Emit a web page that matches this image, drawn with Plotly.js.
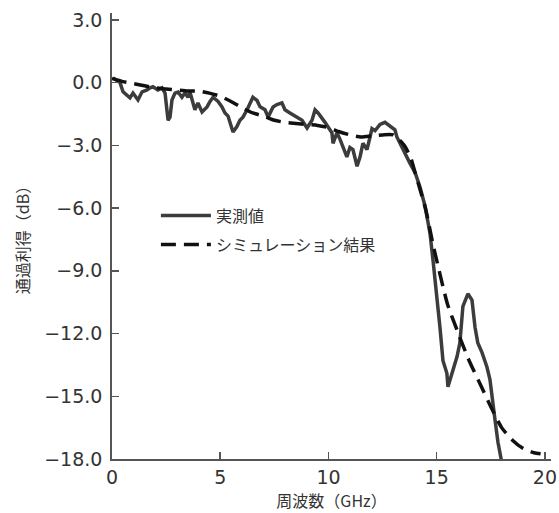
<!DOCTYPE html>
<html>
<head>
<meta charset="utf-8">
<script src="https://cdn.plot.ly/plotly-3.0.1.min.js"></script>
<style>html,body{margin:0;padding:0;background:#fff}#chart{width:559px;height:513px}</style>
</head>
<body>
<div id="chart"></div>
<script>
// 実測値 (measured)
const measFreq = [0.05,0.37,0.51,0.83,0.97,1.2,1.39,1.62,1.76,1.89,2.12,2.31,2.45,2.59,2.68,2.77,2.91,3.05,3.23,3.37,3.51,3.6,3.83,3.97,4.16,4.39,4.53,4.67,4.9,5.08,5.22,5.36,5.59,5.77,5.91,6.05,6.24,6.51,6.7,6.84,7.07,7.21,7.44,7.62,7.85,7.99,8.22,8.55,8.78,9.01,9.24,9.38,9.52,9.84,10.16,10.21,10.39,10.53,10.85,10.99,11.13,11.32,11.46,11.59,11.78,11.92,12.01,12.15,12.38,12.61,12.84,13.07,13.16,13.3,13.44,13.63,13.76,14.0,14.23,14.46,14.69,14.83,15.01,15.15,15.29,15.47,15.52,15.7,15.94,16.07,16.21,16.44,16.63,16.77,16.9,17.09,17.32,17.46,17.6,17.69,17.83,18.05];
const measGain = [0.22,0.0,-0.44,-0.73,-0.5,-0.83,-0.44,-0.35,-0.25,-0.2,-0.35,-0.25,-0.5,-1.8,-1.65,-0.83,-0.5,-0.45,-0.7,-0.5,-0.7,-0.45,-1.3,-0.97,-1.4,-1.16,-0.9,-0.7,-0.9,-1.16,-1.45,-1.6,-2.36,-2.1,-1.8,-1.65,-1.3,-0.7,-0.85,-1.16,-1.3,-1.65,-1.16,-1.05,-0.97,-1.3,-1.45,-1.65,-1.8,-2.17,-1.8,-1.3,-1.45,-1.9,-2.4,-2.9,-2.4,-2.7,-3.55,-3.1,-3.2,-4.0,-3.55,-2.9,-3.2,-2.6,-2.2,-2.3,-2.0,-1.9,-2.1,-2.26,-2.6,-2.9,-3.2,-3.6,-3.85,-4.3,-5.0,-5.9,-7.2,-8.5,-10.1,-11.7,-13.3,-13.9,-14.55,-13.9,-13.1,-12.45,-10.7,-10.1,-10.4,-11.7,-12.45,-12.9,-13.6,-14.2,-15.2,-16.1,-17.2,-18.4];

// シミュレーション結果 (simulation)
const simFreq = [0,0.5,1,1.5,2,2.5,3,3.5,4,4.5,5,5.5,6,6.5,7,7.5,8,8.5,9,9.5,10,10.5,11,11.5,12,12.5,13,13.5,13.8,14,14.2,14.5,14.8,15,15.5,16,16.5,17,17.5,18,18.5,19,19.5,19.8];
const simGain = [0.2,0.05,-0.05,-0.15,-0.25,-0.3,-0.35,-0.4,-0.4,-0.5,-0.65,-0.9,-1.2,-1.45,-1.6,-1.8,-1.9,-1.95,-2.0,-2.05,-2.15,-2.35,-2.5,-2.6,-2.55,-2.5,-2.5,-3.0,-3.6,-4.3,-5.0,-6.1,-7.6,-8.5,-10.6,-12.0,-13.3,-14.4,-15.5,-16.5,-17.1,-17.5,-17.7,-17.75];

const xTicks = [0,5,10,15,20];
const yTicks = [3,0,-3,-6,-9,-12,-15,-18];

const cjk = '"Noto Sans CJK JP", "Noto Sans", sans-serif';
const num = '"DejaVu Sans", "Noto Sans CJK JP", sans-serif';

const traces = [
  {x: measFreq, y: measGain, type: 'scatter', mode: 'lines', name: '実測値', legendgroup: 'a',
   line: {color: '#3c3c3c', width: 3.5}},
  {x: simFreq, y: simGain, type: 'scatter', mode: 'lines', name: 'シミュレーション結果', legendgroup: 'b',
   line: {color: '#111111', width: 3.5, dash: '15px,8px', shape: 'spline', smoothing: 0.6}}
];

const layout = {
  width: 559, height: 513,
  margin: {l: 112, r: 8, t: 13, b: 54},
  paper_bgcolor: '#ffffff', plot_bgcolor: '#ffffff',
  showlegend: true,
  legend: {x: 0.1, y: 0.513, xanchor: 'left', yanchor: 'middle', traceorder: 'grouped',
           font: {family: cjk, size: 16, color: '#333'}, bgcolor: 'rgba(0,0,0,0)',
           itemwidth: 50, tracegroupgap: 5},
  xaxis: {
    range: [0, 20.28], tickmode: 'array', tickvals: xTicks, ticktext: xTicks.map(String),
    ticks: 'inside', ticklen: 7, tickwidth: 1.5, tickcolor: '#555',
    showline: true, linecolor: '#555', linewidth: 1.8, showgrid: false, zeroline: false,
    tickfont: {family: num, size: 19, color: '#333'},
    title: {text: '周波数（GHz）', font: {family: cjk, size: 16, color: '#333'}, standoff: 8}
  },
  yaxis: {
    range: [-18, 3.33], tickmode: 'array', tickvals: yTicks,
    ticktext: yTicks.map(v => (v < 0 ? '\u2212' : '') + Math.abs(v).toFixed(1)),
    ticks: 'inside', ticklen: 7, tickwidth: 1.5, tickcolor: '#555',
    showline: true, linecolor: '#555', linewidth: 1.8, showgrid: false, zeroline: false,
    tickfont: {family: num, size: 19, color: '#333'}, ticklabelstandoff: 4,
    title: {text: '通過利得（dB）', font: {family: cjk, size: 16, color: '#333'}, standoff: 10}
  }
};

Plotly.newPlot('chart', traces, layout, {displayModeBar: false, staticPlot: true});
</script>
</body>
</html>
